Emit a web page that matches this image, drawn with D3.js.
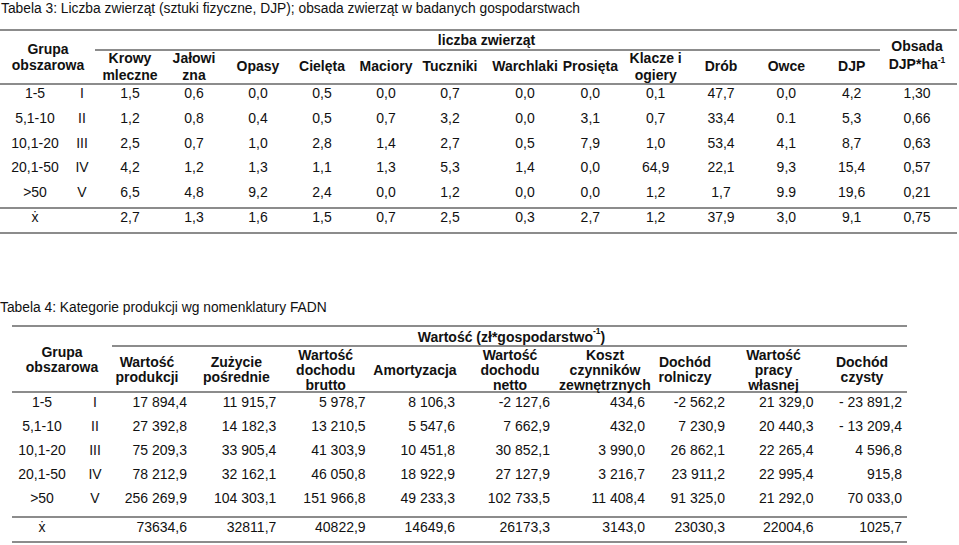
<!DOCTYPE html>
<html><head><meta charset="utf-8">
<script src="https://cdn.jsdelivr.net/npm/d3@7"></script>
<style>
html,body{margin:0;padding:0;background:#fff;}
svg{display:block;font-family:"Liberation Sans",Arial,sans-serif;}
</style></head>
<body>
<svg id="chart" width="959" height="545"></svg>
<script>
// ---------------- DATA: Tabela 3 ----------------
const t3Title = "Tabela 3: Liczba zwierząt (sztuki fizyczne, DJP); obsada zwierząt w badanych gospodarstwach";
const groupRanges = ["1-5", "5,1-10", "10,1-20", "20,1-50", ">50"];
const groupRoman = ["I", "II", "III", "IV", "V"];
const meanLabel = "ẋ";
const t3SpanHeader = "liczba zwierząt";
const t3Headers = [["Krowy","mleczne"],["Jałowi","zna"],["Opasy"],["Cielęta"],["Maciory"],["Tuczniki"],["Warchlaki"],["Prosięta"],["Klacze i","ogiery"],["Drób"],["Owce"],["DJP"],["Obsada","DJP*ha"]];
// each column: 5 groups then mean
const krowy     = ["1,5","1,2","2,5","4,2","6,5","2,7"];
const jalowizna = ["0,6","0,8","0,7","1,2","4,8","1,3"];
const opasy     = ["0,0","0,4","1,0","1,3","9,2","1,6"];
const ciele     = ["0,5","0,5","2,8","1,1","2,4","1,5"];
const maciory   = ["0,0","0,7","1,4","1,3","0,0","0,7"];
const tuczniki  = ["0,7","3,2","2,7","5,3","1,2","2,5"];
const warchlaki = ["0,0","0,0","0,5","1,4","0,0","0,3"];
const prosieta  = ["0,0","3,1","7,9","0,0","0,0","2,7"];
const klacze    = ["0,1","0,7","1,0","64,9","1,2","1,2"];
const drob      = ["47,7","33,4","53,4","22,1","1,7","37,9"];
const owce      = ["0,0","0.1","4,1","9,3","9.9","3,0"];
const djp       = ["4,2","5,3","8,7","15,4","19,6","9,1"];
const obsada    = ["1,30","0,66","0,63","0,57","0,21","0,75"];
const t3Values = [krowy, jalowizna, opasy, ciele, maciory, tuczniki, warchlaki, prosieta, klacze, drob, owce, djp, obsada];

// ---------------- DATA: Tabela 4 ----------------
const t4Title = "Tabela 4: Kategorie produkcji wg nomenklatury FADN";
const t4SpanHeader = "Wartość (zł*gospodarstwo";
const t4Headers = [["Wartość","produkcji"],["Zużycie","pośrednie"],["Wartość","dochodu","brutto"],["Amortyzacja"],["Wartość","dochodu","netto"],["Koszt","czynników","zewnętrznych"],["Dochód","rolniczy"],["Wartość","pracy","własnej"],["Dochód","czysty"]];
const wartProd   = ["17 894,4","27 392,8","75 209,3","78 212,9","256 269,9","73634,6"];
const zuzycie    = ["11 915,7","14 182,3","33 905,4","32 162,1","104 303,1","32811,7"];
const dochBrutto = ["5 978,7","13 210,5","41 303,9","46 050,8","151 966,8","40822,9"];
const amortyz    = ["8 106,3","5 547,6","10 451,8","18 922,9","49 233,3","14649,6"];
const dochNetto  = ["-2 127,6","7 662,9","30 852,1","27 127,9","102 733,5","26173,3"];
const kosztCz    = ["434,6","432,0","3 990,0","3 216,7","11 408,4","3143,0"];
const dochRoln   = ["-2 562,2","7 230,9","26 862,1","23 911,2","91 325,0","23030,3"];
const pracaWl    = ["21 329,0","20 440,3","22 265,4","22 995,4","21 292,0","22004,6"];
const dochCzysty = ["- 23 891,2","- 13 209,4","4 596,8","915,8","70 033,0","1025,7"];
const t4Values = [wartProd, zuzycie, dochBrutto, amortyz, dochNetto, kosztCz, dochRoln, pracaWl, dochCzysty];

// ---------------- LAYOUT ----------------
const svg = d3.select("#chart");
const FS = 14, SUP = 8.5;
const ink = "#111", rule = "#666";

function hline(x1, x2, y){
  svg.append("line").attr("x1",x1).attr("x2",x2).attr("y1",y).attr("y2",y)
     .attr("stroke",rule).attr("stroke-width",1.7);
}
function txt(x, y, s, opt={}){
  return svg.append("text").attr("x",x).attr("y",y).attr("dy","0.36em")
    .attr("font-size",opt.size||FS).attr("font-weight",opt.bold?"bold":"normal")
    .attr("text-anchor",opt.anchor||"middle").attr("fill",ink).text(s);
}
const rowKeys = d3.range(6);

// ===== Tabela 3 =====
(function(){
  const L = {titleY:8, top:30, span:50, head:84, meanTop:208, bottom:233, left:0, right:957, spanL:95, spanR:880,
             grpX:35, romX:82, grpHeadX:48, rowFirst:93, rowLast:217};
  txt(L.left+1, L.titleY, t3Title, {anchor:"start", size:13.8});
  hline(L.left, L.right, L.top);
  hline(L.spanL, L.spanR, L.span);
  hline(L.left, L.right, L.head);
  hline(L.left, L.right, L.meanTop);
  hline(L.left, L.right, L.bottom);

  // piecewise-linear column scale (columns are not evenly spaced)
  const x = d3.scaleLinear().domain([0, 5, 6, 12]).range([130, 450, 525, 917]);
  const y = d3.scalePoint().domain(rowKeys).range([L.rowFirst, L.rowLast]);

  txt((L.spanL+L.spanR)/2 - 1, 40, t3SpanHeader, {bold:true});
  txt(L.grpHeadX, 49, "Grupa", {bold:true});
  txt(L.grpHeadX, 65, "obszarowa", {bold:true});

  t3Headers.forEach((h, i) => {
    const last = i === t3Headers.length - 1;
    const ys = last ? [46, 64] : (h.length === 2 ? [58, 75] : [66]);
    h.forEach((line, j) => {
      const t = txt(x(i), ys[j], line, {bold:true});
      if (last && j === 1) {
        t.append("tspan").attr("font-size",SUP).attr("dy","-0.75em").text("-1");
      }
    });
  });

  groupRanges.forEach((g, r) => {
    txt(L.grpX, y(r), g);
    txt(L.romX, y(r), groupRoman[r]);
  });
  txt(L.grpX, y(5), meanLabel);

  const cells = t3Values.flatMap((col, c) => col.map((v, r) => ({c, r, v})));
  svg.append("g").selectAll("text").data(cells).join("text")
    .attr("x", d => x(d.c)).attr("y", d => y(d.r)).attr("dy","0.36em")
    .attr("font-size",FS).attr("text-anchor","middle").attr("fill",ink)
    .text(d => d.v);
})();

// ===== Tabela 4 =====
(function(){
  const L = {titleY:307, top:326, span:346, head:392, meanTop:517, bottom:542, left:12, right:907, spanL:112,
             grpX:42, romX:95, grpHeadX:62, rowFirst:402, rowLast:498, meanY:527};
  txt(0, L.titleY, t4Title, {anchor:"start", size:13.8});
  hline(L.left, L.right, L.top);
  hline(L.spanL, L.right, L.span);
  hline(L.left, L.right, L.head);
  hline(L.left, L.right, L.meanTop);
  hline(L.left, L.right, L.bottom);

  // right edge of each column (piecewise-linear, columns are uneven)
  const xr = d3.scaleLinear().domain([0, 3, 5, 6, 8]).range([187, 455, 645, 725, 902]);
  const yG = d3.scalePoint().domain(d3.range(5)).range([L.rowFirst, L.rowLast]);
  const y = r => r < 5 ? yG(r) : L.meanY;

  const sp = txt((L.spanL+L.right)/2 + 2, 337, t4SpanHeader, {bold:true});
  sp.append("tspan").attr("font-size",SUP).attr("dy","-0.9em").text("-1");
  sp.append("tspan").attr("dy","0.55em").text(")");

  txt(L.grpHeadX, 352, "Grupa", {bold:true});
  txt(L.grpHeadX, 367, "obszarowa", {bold:true});

  t4Headers.forEach((h, i) => {
    const ys = h.length === 3 ? [355, 370, 385] : (h.length === 2 ? [362, 377] : [370]);
    const cx = xr(i) - 40;
    h.forEach((line, j) => txt(cx, ys[j], line, {bold:true}));
  });

  groupRanges.forEach((g, r) => {
    txt(L.grpX, y(r), g);
    txt(L.romX, y(r), groupRoman[r]);
  });
  txt(L.grpX, y(5), meanLabel);

  const cells = t4Values.flatMap((col, c) => col.map((v, r) => ({c, r, v})));
  svg.append("g").selectAll("text").data(cells).join("text")
    .attr("x", d => xr(d.c)).attr("y", d => y(d.r)).attr("dy","0.36em")
    .attr("font-size",FS).attr("text-anchor","end").attr("fill",ink)
    .text(d => d.v);
})();
</script>
</body></html>
